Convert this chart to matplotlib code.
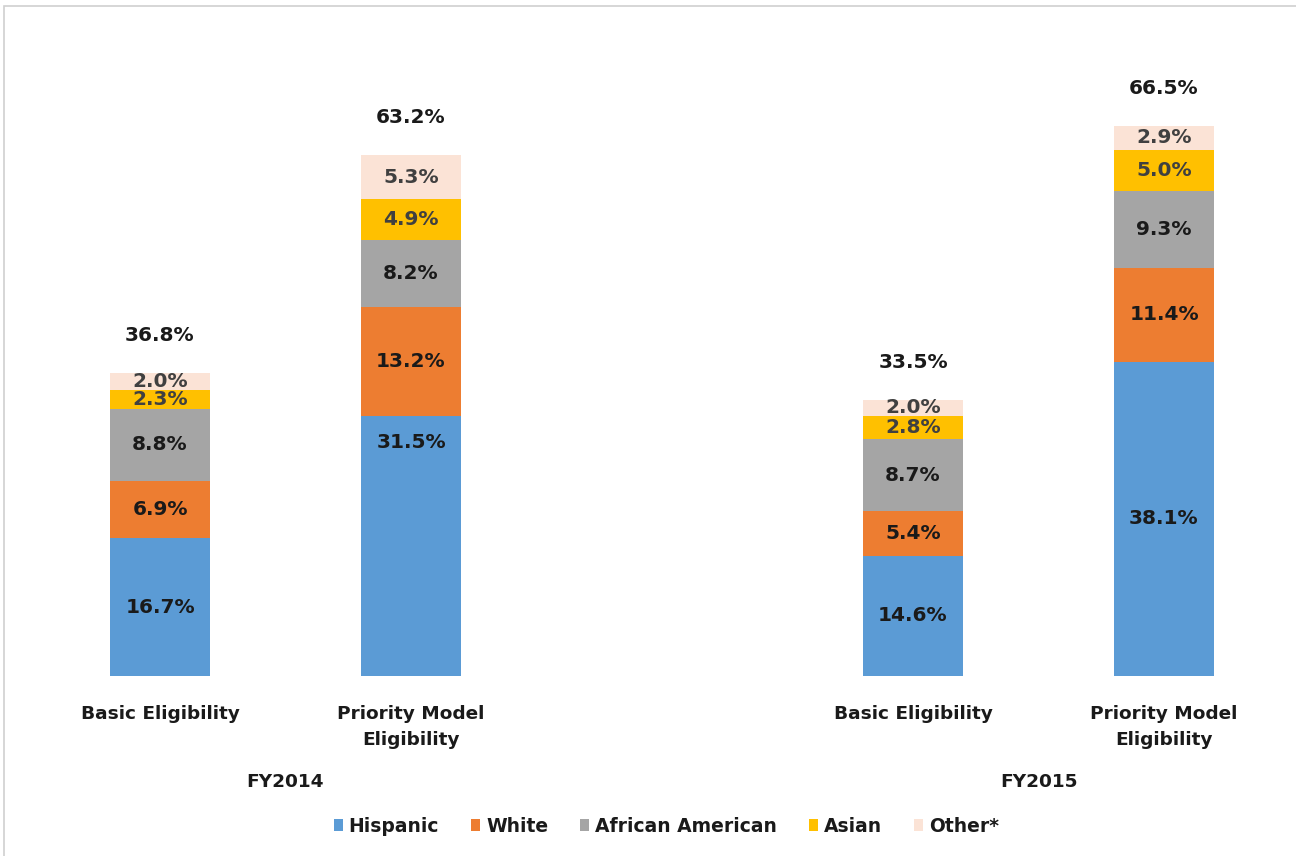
import matplotlib
matplotlib.use("Agg")
import matplotlib.pyplot as plt
from matplotlib.patches import Rectangle, Patch
import numpy as np

groups = ["FY2014", "FY2015"]
categories = ["Basic Eligibility", "Priority Model\nEligibility",
              "Basic Eligibility", "Priority Model\nEligibility"]
series = ["Hispanic", "White", "African American", "Asian", "Other*"]
hispanic = [16.7, 31.5, 14.6, 38.1]
white = [6.9, 13.2, 5.4, 11.4]
african_american = [8.8, 8.2, 8.7, 9.3]
asian = [2.3, 4.9, 2.8, 5.0]
other = [2.0, 5.3, 2.0, 2.9]
totals = [36.8, 63.2, 33.5, 66.5]

values = [hispanic, white, african_american, asian, other]
colors = ["#5B9BD5", "#ED7D31", "#A5A5A5", "#FFC000", "#FBE3D6"]
text_colors = ["#1a1a1a", "#1a1a1a", "#1a1a1a", "#404040", "#404040"]

plt.rcParams['font.family'] = ['DejaVu Sans']
fig = plt.figure(figsize=(12.96, 8.56), dpi=100)
ax = fig.add_axes([34.5 / 1296, 180 / 856, 1255 / 1296, 577.5 / 856])

x = np.array([0, 1, 3, 4])
width = 0.4
bottom = np.zeros(4)
for si, (vals, c, tc) in enumerate(zip(values, colors, text_colors)):
    vals = np.array(vals)
    ax.bar(x, vals, width, bottom=bottom, color=c, edgecolor="none")
    for bi, (xi, b, v) in enumerate(zip(x, bottom, vals)):
        frac = 0.5
        if si == 0 and bi == 1:
            frac = 0.9  # label sits near the top of this segment in the original
        ax.text(xi, b + v * frac, f"{v:.1f}%", ha="center", va="center",
                fontsize=14.5, fontweight="bold", color=tc)
    bottom += vals

for xi, t, b in zip(x, totals, bottom):
    ax.annotate(f"{t:.1f}%", (xi, b), xytext=(0, 27), textcoords="offset points",
                ha="center", va="center", fontsize=14.5, fontweight="bold",
                color="#1a1a1a")

ax.set_xlim(-0.5, 4.5)
ax.set_ylim(0, 70)
ax.axis("off")

for xi, cat in zip(x, categories):
    ax.annotate(cat, (xi, 0), xytext=(0, -21), textcoords="offset points",
                ha="center", va="top", fontsize=13.3, fontweight="bold",
                color="#1a1a1a", linespacing=1.55)

for gi, g in enumerate(groups):
    cx = (x[2 * gi] + x[2 * gi + 1]) / 2
    ax.annotate(g, (cx, 0), xytext=(0, -70), textcoords="offset points",
                ha="center", va="top", fontsize=13.3, fontweight="bold",
                color="#1a1a1a")

handles = [Patch(facecolor=c, edgecolor="none") for c in colors]
leg = fig.legend(handles, series, loc="center", bbox_to_anchor=(0.514, 0.035),
                 ncol=5, frameon=False, handlelength=0.5, handleheight=0.65,
                 handletextpad=0.3, columnspacing=1.7,
                 prop={"size": 13.5, "weight": "bold"})
for t in leg.get_texts():
    t.set_color("#1a1a1a")

fig.patches.append(Rectangle((4 / 1296, -0.01), 1.1, (850 / 856) + 0.01,
                             transform=fig.transFigure, fill=False,
                             edgecolor="#d0d0d0", linewidth=1.2))

fig.savefig("out.png", dpi=100, facecolor="white")
